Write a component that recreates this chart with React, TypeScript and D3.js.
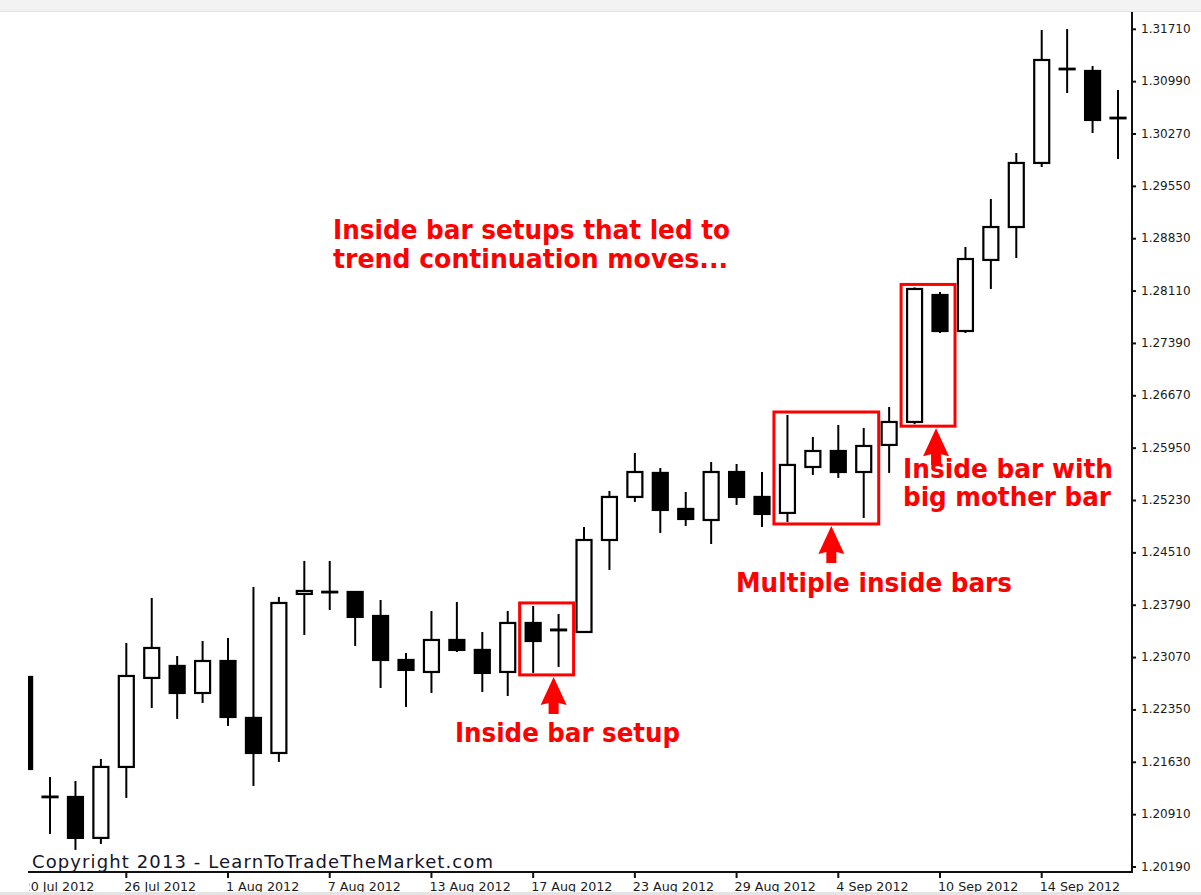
import React from "react";
import * as d3 from "d3";

const dates = [
  "2012-07-20", "2012-07-23", "2012-07-24", "2012-07-25", "2012-07-26", "2012-07-27", "2012-07-30", "2012-07-31",
  "2012-08-01", "2012-08-02", "2012-08-03", "2012-08-06", "2012-08-07", "2012-08-08", "2012-08-09", "2012-08-10",
  "2012-08-13", "2012-08-14", "2012-08-15", "2012-08-16", "2012-08-17", "2012-08-20", "2012-08-21", "2012-08-22",
  "2012-08-23", "2012-08-24", "2012-08-27", "2012-08-28", "2012-08-29", "2012-08-30", "2012-08-31", "2012-09-03",
  "2012-09-04", "2012-09-05", "2012-09-06", "2012-09-07", "2012-09-10", "2012-09-11", "2012-09-12", "2012-09-13",
  "2012-09-14", "2012-09-17", "2012-09-18", "2012-09-19",
];

const opens = [
  1.22803, 1.21158, 1.21153, 1.20590, 1.21566, 1.22790, 1.22955, 1.22583,
  1.23023, 1.22240, 1.21758, 1.23945, 1.23975, 1.23972, 1.23642, 1.23037,
  1.22872, 1.23312, 1.23175, 1.22872, 1.23546, 1.23455, 1.23422, 1.24687,
  1.25279, 1.25609, 1.25114, 1.24962, 1.25622, 1.25279, 1.25059, 1.25691,
  1.25911, 1.25622, 1.25994, 1.26310, 1.28056, 1.27561, 1.28538, 1.28991,
  1.29872, 1.31168, 1.31137, 1.30494,
];

const highs = [
  1.22803, 1.21428, 1.21373, 1.21676, 1.23271, 1.23890, 1.23092, 1.23298,
  1.23340, 1.24041, 1.23904, 1.24399, 1.24399, 1.23980, 1.23862, 1.23133,
  1.23711, 1.23835, 1.23422, 1.23711, 1.23780, 1.23670, 1.24866, 1.25361,
  1.25884, 1.25677, 1.25347, 1.25760, 1.25732, 1.25622, 1.26406, 1.26104,
  1.26269, 1.26228, 1.26516, 1.28160, 1.28097, 1.28716, 1.29376, 1.30009,
  1.31700, 1.31714, 1.31205, 1.30875,
];

const lows = [
  1.21538, 1.20645, 1.20425, 1.20507, 1.21140, 1.22377, 1.22226, 1.22446,
  1.22130, 1.21305, 1.21635, 1.23381, 1.23725, 1.23230, 1.22652, 1.22391,
  1.22583, 1.23147, 1.22597, 1.22542, 1.22859, 1.22941, 1.23409, 1.24275,
  1.25210, 1.24784, 1.24880, 1.24632, 1.25169, 1.24866, 1.24935, 1.25581,
  1.25540, 1.24990, 1.25609, 1.26280, 1.27534, 1.27534, 1.28139, 1.28565,
  1.29816, 1.30834, 1.30284, 1.29927,
];

const closes = [
  1.21538, 1.21152, 1.20590, 1.21566, 1.22817, 1.23202, 1.22583, 1.23023,
  1.22253, 1.21758, 1.23821, 1.23986, 1.23968, 1.23629, 1.23037, 1.22900,
  1.23312, 1.23175, 1.22859, 1.23546, 1.23298, 1.23445, 1.24687, 1.25279,
  1.25622, 1.25100, 1.24976, 1.25622, 1.25279, 1.25045, 1.25719, 1.25911,
  1.25622, 1.25980, 1.26310, 1.28139, 1.27561, 1.28551, 1.28991, 1.29872,
  1.31288, 1.31160, 1.30463, 1.30486,
];

const yTickLabels = [
  "1.20190", "1.20910", "1.21630", "1.22350", "1.23070", "1.23790", "1.24510", "1.25230", "1.25950",
  "1.26670", "1.27390", "1.28110", "1.28830", "1.29550", "1.30270", "1.30990", "1.31710",
];

const xTickStep = 4;

// annotation groups: first and last candle index of each highlighted pattern
const boxFirst = [20, 30, 35];
const boxLast = [21, 33, 36];

const noteTexts = [
  ["Inside bar setups that led to", "trend continuation moves..."],
  ["Inside bar setup"],
  ["Multiple inside bars"],
  ["Inside bar with", "big mother bar"],
];

const copyright = "Copyright 2013 - LearnToTradeTheMarket.com";

export default function App() {
  const W = 1201;
  const H = 895;
  const axisX = 1132;
  const axisY = 872;
  const clipLeft = 28;
  const bodyW = 15;

  const parse = d3.timeParse("%Y-%m-%d");
  const fmt = d3.timeFormat("%-d %b %Y");
  const x = d3.scalePoint<string>().domain(dates).range([24.6, 1118]);
  const y = d3.scaleLinear().domain([1.2019, 1.3171]).range([867, 29.3]);

  const candles = dates.map((d, i) => ({ d, o: opens[i], h: highs[i], l: lows[i], c: closes[i] }));

  const boxes = boxFirst.map((f, k) => {
    const l = boxLast[k];
    const sub = candles.slice(f, l + 1);
    const left = (x(dates[f]) as number) - 13.5;
    const right = (x(dates[l]) as number) + 15;
    const top = y(d3.max(sub, (s) => s.h) as number) - 3;
    const bottom = y(d3.min(sub, (s) => s.l) as number) + 2;
    return { left, right, top, bottom };
  });
  const arrowDx = [7, 5, 8];

  const arrowPath = (cx: number, tipY: number) => {
    const hw = 13, hh = 28, sw = 5, sl = 9;
    return `M${cx},${tipY} L${cx + hw},${tipY + hh} L${cx + sw},${tipY + hh - 2} L${cx + sw},${tipY + hh + sl} L${cx - sw},${tipY + hh + sl} L${cx - sw},${tipY + hh - 2} L${cx - hw},${tipY + hh} Z`;
  };

  const noteLayout = [
    { x: 333, ys: [239, 268], widths: [397, 395] },
    { x: 455, ys: [742], widths: [225] },
    { x: 736, ys: [592], widths: [276] },
    { x: 903, ys: [478, 506], widths: [210, 208] },
  ];

  const xTicks = dates.filter((_, i) => i % xTickStep === 0);

  return (
    <svg
      width={W}
      height={H}
      style={{ position: "absolute", left: 0, top: 0, background: "#fff", fontFamily: "'DejaVu Sans', sans-serif" }}
    >
      <defs>
        <clipPath id="plotClip">
          <rect x={clipLeft} y={0} width={axisX - clipLeft + 1} height={H} />
        </clipPath>
        <clipPath id="labelClip">
          <rect x={clipLeft + 1} y={0} width={W - clipLeft} height={H} />
        </clipPath>
      </defs>
      <rect x={0} y={0} width={W} height={H} fill="#ffffff" />
      <rect x={0} y={0} width={W} height={11} fill="#f3f3f3" />
      <line x1={0} x2={W} y1={11.5} y2={11.5} stroke="#e2e2e2" strokeWidth={1} />

      {/* candles */}
      <g clipPath="url(#plotClip)">
        {candles.map((k, i) => {
          const cx = x(k.d) as number;
          const up = k.c >= k.o;
          const yTop = y(Math.max(k.o, k.c));
          const yBot = y(Math.min(k.o, k.c));
          return (
            <g key={i}>
              <line x1={cx} x2={cx} y1={y(k.h)} y2={y(k.l)} stroke="#000" strokeWidth={2} />
              <rect
                x={cx - bodyW / 2}
                y={yTop}
                width={bodyW}
                height={Math.max(0.6, yBot - yTop)}
                fill={up ? "#fff" : "#000"}
                stroke="#000"
                strokeWidth={2.2}
              />
            </g>
          );
        })}
        {/* x axis line */}
        <line x1={0} x2={axisX} y1={axisY} y2={axisY} stroke="#111" strokeWidth={2} />
        {xTicks.map((d) => (
          <line key={d} x1={x(d) as number} x2={x(d) as number} y1={axisY} y2={axisY + 6} stroke="#111" strokeWidth={2} />
        ))}
      </g>

      {/* x tick labels */}
      <g clipPath="url(#labelClip)" fontSize={12.7} fill="#1a1a1a">
        {xTicks.map((d) => (
          <text key={d} x={(x(d) as number) - 2} y={891}>
            {fmt(parse(d) as Date)}
          </text>
        ))}
      </g>

      {/* y axis */}
      <line x1={axisX} x2={axisX} y1={12} y2={axisY + 1} stroke="#111" strokeWidth={2} />
      <g fontSize={12} fill="#1a1a1a">
        {yTickLabels.map((t) => {
          const ty = y(+t);
          return (
            <g key={t}>
              <line x1={axisX} x2={axisX + 4} y1={ty} y2={ty} stroke="#111" strokeWidth={2} />
              <text x={1141} y={ty + 3.5}>{t}</text>
            </g>
          );
        })}
      </g>

      {/* copyright */}
      <text x={32} y={868} fontSize={18} fill="#141428" textLength={461} lengthAdjust="spacing">
        {copyright}
      </text>

      {/* annotation boxes and arrows */}
      {boxes.map((b, k) => (
        <g key={k}>
          <rect x={b.left} y={b.top} width={b.right - b.left} height={b.bottom - b.top} fill="none" stroke="#ff0000" strokeWidth={3} />
          <path d={arrowPath((b.left + b.right) / 2 + arrowDx[k], b.bottom + 2)} fill="#ff0000" />
        </g>
      ))}

      {/* annotation texts */}
      <g fill="#ff0000" fontWeight="bold" fontSize={26}>
        {noteTexts.map((lines, k) =>
          lines.map((ln, j) => (
            <text
              key={`${k}-${j}`}
              x={noteLayout[k].x}
              y={noteLayout[k].ys[j]}
              textLength={noteLayout[k].widths[j]}
              lengthAdjust="spacingAndGlyphs"
            >
              {ln}
            </text>
          ))
        )}
      </g>

      <rect x={0} y={892} width={W} height={3} fill="#e4e4e4" />
    </svg>
  );
}
